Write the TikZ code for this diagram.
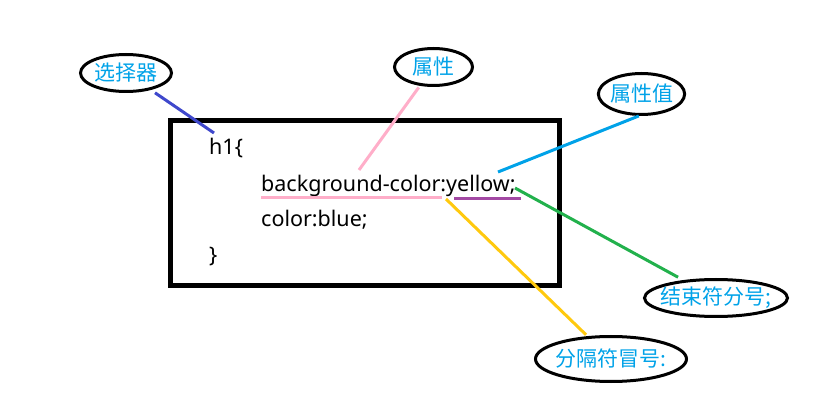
\documentclass[tikz,border=0pt]{standalone}
\usepackage{fontspec}
\setmainfont{Noto Sans}
\newfontfamily\cjk{Noto Sans CJK SC}
\usetikzlibrary{shapes.geometric}
\definecolor{Indigo}{HTML}{3F48CC}
\definecolor{Pink}{HTML}{FFAEC9}
\definecolor{Turq}{HTML}{00A2E8}
\definecolor{Green}{HTML}{22B14C}
\definecolor{Gold}{HTML}{FFC90E}
\definecolor{Purple}{HTML}{A349A4}

\begin{document}
\begin{tikzpicture}[
  x=1pt,y=-1pt,
  bubble/.style={ellipse,draw,line width=3pt,inner sep=0,text=Turq,font=\cjk\fontsize{21}{24}\selectfont},
  code/.style={anchor=base west,inner sep=0,font=\fontsize{21.5}{25}\selectfont},
  lead/.style={line width=3pt}
]
  \useasboundingbox (0,0) rectangle (830,403);
  % code box
  \draw[line width=5pt] (170.5,120.5) rectangle (559.5,285.5);
  \node[code] (hone) at (209,155) {h1\{};
  \node[code] (bgline) at (261,191.5) {background-color:yellow;};
  \node[code] (colorline) at (261,227) {color:blue;};
  \node[code] (brace) at (209,263) {\}};
  % callouts
  \node[bubble,minimum width=91,minimum height=37] (sel) at (126,73) {选择器};
  \node[bubble,minimum width=78,minimum height=37] (prop) at (433.5,67) {属性};
  \node[bubble,minimum width=86,minimum height=41,inner xsep=-1pt] (val) at (641.5,94) {属性值};
  \node[bubble,minimum width=143,minimum height=37,inner xsep=-6pt] (semi) at (716,298) {结束符分号;};
  \node[bubble,minimum width=151,minimum height=45,inner xsep=-3pt] (colon) at (611,359) {分隔符冒号:};
  \coordinate (selEnd) at (214,133);
  \coordinate (propEnd) at (359,170);
  \coordinate (valEnd) at (498,172);
  \coordinate (semiEnd) at (515,188);
  \coordinate (colonEnd) at (446,199);
  \draw[lead,Indigo,shorten <=5pt] (sel) -- (selEnd);
  \draw[lead,Pink,shorten <=2pt] (prop) -- (propEnd);
  \draw[lead,Turq] (val.263) -- (valEnd);
  \draw[lead,Green,shorten <=6pt] (semi) -- (semiEnd);
  \draw[lead,Gold,shorten <=2pt] (colon) -- (colonEnd);
  % underlines
  \draw[lead,Pink] (261,197.5) -- (442,197.5);
  \draw[lead,Purple] (454,199) -- (521,199);
\end{tikzpicture}
\end{document}
